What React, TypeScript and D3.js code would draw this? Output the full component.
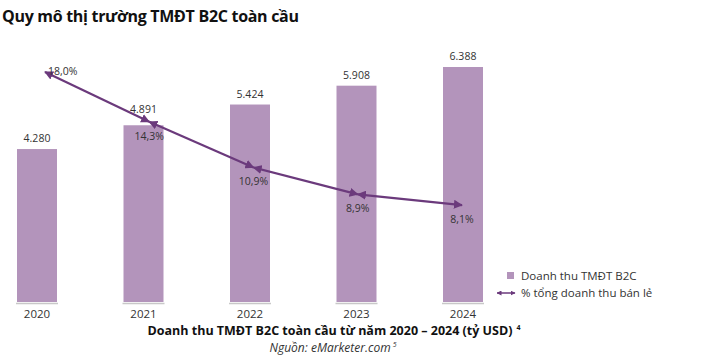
import React from "react";
import * as d3 from "d3";

const years = ["2020", "2021", "2022", "2023", "2024"];
const revenue = [4.28, 4.891, 5.424, 5.908, 6.388];
const revenueLabels = ["4.280", "4.891", "5.424", "5.908", "6.388"];
const share = [18.0, 14.3, 10.9, 8.9, 8.1];
const shareLabels = ["18,0%", "14,3%", "10,9%", "8,9%", "8,1%"];

const title = "Quy mô thị trường TMĐT B2C toàn cầu";
const legendBar = "Doanh thu TMĐT B2C";
const legendLine = "% tổng doanh thu bán lẻ";
const caption = "Doanh thu TMĐT B2C toàn cầu từ năm 2020 – 2024 (tỷ USD)";
const captionNote = "4";
const source = "Nguồn: eMarketer.com";
const sourceNote = "5";

const W = 720;
const H = 357;
const BAR = "#b394bb";
const LINE = "#6b3a7c";
const TEXT = "#333333";
const FONT = "'Open Sans', 'Noto Sans', sans-serif";

export default function App() {
  const xBar = d3.scalePoint<string>().domain(years).range([37, 463]);
  const xLine = d3.scalePoint<string>().domain(years).range([45, 462]);
  const yBar = d3.scaleLinear().domain([0.35, 6.388]).range([302, 67]);
  const yPct = d3.scaleLinear().domain([0, 18]).range([314, 72]);
  const bw = 40;

  const pts = years.map((y, i) => [xLine(y)!, yPct(share[i])] as [number, number]);
  const seg = d3.line();

  return (
    <div style={{ position: "absolute", left: 0, top: 0 }}>
      <svg width={W} height={H} style={{ display: "block", background: "#fff" }}>
        <defs>
          <marker id="ah" viewBox="0 0 10 10" refX="9" refY="5" markerWidth="9" markerHeight="9" markerUnits="userSpaceOnUse" orient="auto-start-reverse">
            <path d="M0,0 L10,5 L0,10 z" fill={LINE} />
          </marker>
          <marker id="ahs" viewBox="0 0 10 10" refX="9" refY="5" markerWidth="5" markerHeight="5" markerUnits="userSpaceOnUse" orient="auto-start-reverse">
            <path d="M0,0 L10,5 L0,10 z" fill={LINE} />
          </marker>
        </defs>
        <text x={2} y={22} fontFamily={FONT} fontWeight={700} fontSize={16} letterSpacing={-0.3} fill="#111">{title}</text>

        {years.map((y, i) => (
          <g key={y}>
            <rect x={xBar(y)! - bw / 2} y={yBar(revenue[i])} width={bw} height={yBar(0.35) - yBar(revenue[i])} fill={BAR} />
            <line x1={xBar(y)! - bw / 2 - 1} x2={xBar(y)! + bw / 2 + 1} y1={303.5} y2={303.5} stroke="#c8c8c8" strokeWidth={1.5} />
            <text x={xBar(y)!} y={yBar(revenue[i]) - (i === 1 ? 12 : 7)} textAnchor="middle" fontFamily={FONT} fontSize={10.5} fill={TEXT}>{revenueLabels[i]}</text>
            <text x={xBar(y)!} y={318} textAnchor="middle" fontFamily={FONT} fontSize={11.5} fill={TEXT}>{y}</text>
          </g>
        ))}

        {pts.slice(1).map((p, i) => (
          <path key={i} d={seg([pts[i], p])!} stroke={LINE} strokeWidth={2.2} fill="none" markerStart="url(#ah)" markerEnd="url(#ah)" />
        ))}

        {pts.map((p, i) => (
          i === 0 ? (
            <text key={i} x={p[0] + 3} y={p[1] + 3} fontFamily={FONT} fontSize={10.5} fill={TEXT}>{shareLabels[i]}</text>
          ) : (
            <text key={i} x={p[0]} y={p[1] + 18} textAnchor="middle" fontFamily={FONT} fontSize={10.5} fill={TEXT}>{shareLabels[i]}</text>
          )
        ))}

        <rect x={507} y={272} width={7} height={7} fill={BAR} />
        <text x={521} y={280} fontFamily={FONT} fontSize={11.5} fill={TEXT}>{legendBar}</text>
        <line x1={497} x2={515} y1={293} y2={293} stroke={LINE} strokeWidth={1.5} markerStart="url(#ahs)" markerEnd="url(#ahs)" />
        <text x={521} y={297} fontFamily={FONT} fontSize={11.5} fill={TEXT}>{legendLine}</text>

        <text x={334} y={335} textAnchor="middle" fontFamily={FONT} fontWeight={700} fontSize={12.5} fill="#111">
          {caption}<tspan dx={4} dy={-5} fontSize={7}>{captionNote}</tspan>
        </text>
        <text x={333} y={352} textAnchor="middle" fontFamily={FONT} fontStyle="italic" fontSize={12} fill={TEXT}>
          {source}<tspan dx={2} dy={-5} fontSize={7}>{sourceNote}</tspan>
        </text>
      </svg>
    </div>
  );
}
